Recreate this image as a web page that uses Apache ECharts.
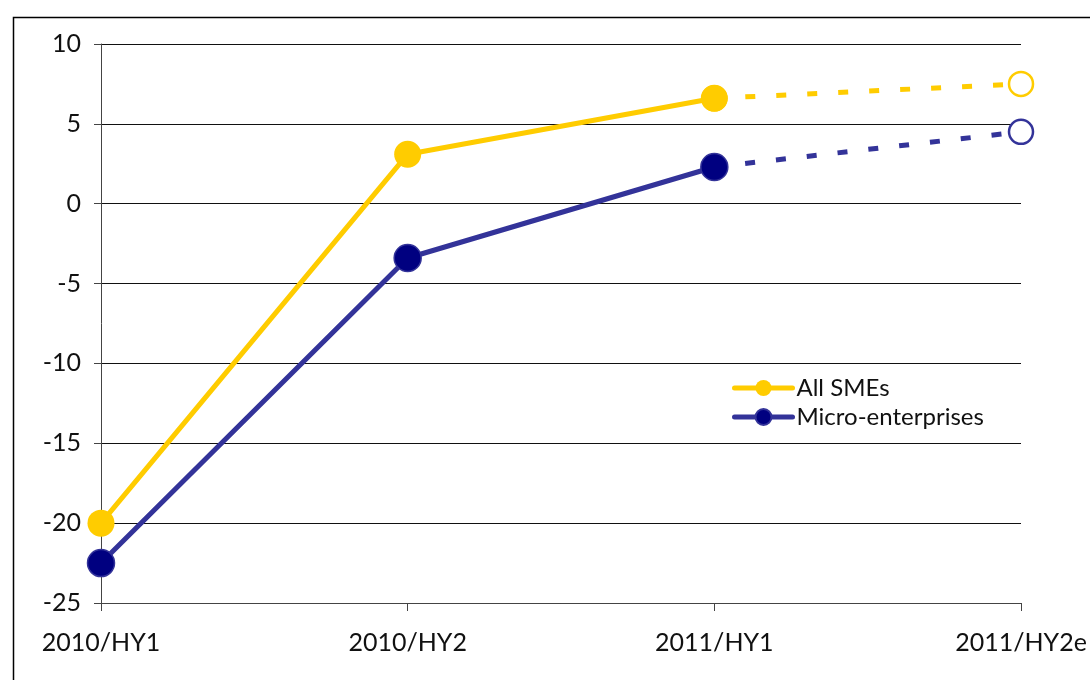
<!DOCTYPE html>
<html><head><meta charset="utf-8">
<script src="https://cdn.jsdelivr.net/npm/echarts@6/dist/echarts.min.js"></script>
<style>html,body{margin:0;padding:0;background:#fff}#c{width:1090px;height:680px}</style>
</head><body><div id="c"></div>
<script>
const categories = ['2010/HY1', '2010/HY2', '2011/HY1', '2011/HY2e'];
const allSMEs = [-20, 3.1, 6.6, 7.5];
const microEnterprises = [-22.5, -3.4, 2.3, 4.5];
const yTicks = { min: -25, max: 10, interval: 5 };

const FONT = 'Lato';
const yellow = '#FFCC00';
const blueLine = '#333399';
const blueFill = '#000080';

function solidPart(arr) { return arr.map((v, i) => i < arr.length - 1 ? v : '-'); }
function dashPart(arr) { return arr.map((v, i) => i >= arr.length - 2 ? v : '-'); }

const chart = echarts.init(document.getElementById('c'));
chart.setOption({
  animation: false,
  grid: { left: 101, right: 69, top: 44, bottom: 77 },
  graphic: [{
    type: 'rect', left: 11, top: 15, silent: true,
    shape: { width: 1100, height: 700 },
    style: { fill: 'none', stroke: '#000', lineWidth: 1.5 }
  }],
  legend: {
    left: 727, top: 371, orient: 'vertical', itemGap: 5,
    itemWidth: 58, itemHeight: 20,
    lineStyle: { width: 5, cap: 'round' },
    textStyle: { fontFamily: FONT, fontSize: 24, color: '#111', padding: [0, 0, 0, -1] },
    data: ['All SMEs', 'Micro-enterprises']
  },
  xAxis: {
    type: 'category', data: categories, boundaryGap: false,
    axisLine: { show: true, onZero: false, lineStyle: { color: '#444', width: 1 } },
    axisTick: { show: true, alignWithLabel: true, length: 8, lineStyle: { color: '#444' } },
    axisLabel: { fontFamily: FONT, fontSize: 25, color: '#111', margin: 27, interval: 0 },
    splitLine: { show: false }
  },
  yAxis: {
    type: 'value', min: yTicks.min, max: yTicks.max, interval: yTicks.interval,
    axisLine: { show: true, lineStyle: { color: '#444', width: 1 } },
    axisTick: { show: true, length: 7, lineStyle: { color: '#444' } },
    axisLabel: { fontFamily: FONT, fontSize: 25, color: '#111', margin: 20 },
    splitLine: { show: true, lineStyle: { color: '#111', width: 1 } }
  },
  series: [
    {
      name: 'All SMEs', type: 'line', data: solidPart(allSMEs), z: 3,
      symbol: 'circle', symbolSize: 27,
      lineStyle: { color: yellow, width: 5 },
      itemStyle: { color: yellow, borderColor: yellow, borderWidth: 0 }
    },
    {
      name: 'All SMEs e', type: 'line', data: dashPart(allSMEs), z: 2,
      symbol: 'circle', symbolSize: 24,
      lineStyle: { color: yellow, width: 5, type: [10, 21] },
      itemStyle: { color: '#fff', borderColor: yellow, borderWidth: 2.5 }
    },
    {
      name: 'Micro-enterprises', type: 'line', data: solidPart(microEnterprises), z: 3,
      symbol: 'circle', symbolSize: 27,
      lineStyle: { color: blueLine, width: 5 },
      itemStyle: { color: blueFill, borderColor: blueLine, borderWidth: 1.5 }
    },
    {
      name: 'Micro-enterprises e', type: 'line', data: dashPart(microEnterprises), z: 2,
      symbol: 'circle', symbolSize: 24,
      lineStyle: { color: blueLine, width: 5, type: [10, 21] },
      itemStyle: { color: '#fff', borderColor: blueLine, borderWidth: 2.5 }
    }
  ]
});
</script></body></html>
